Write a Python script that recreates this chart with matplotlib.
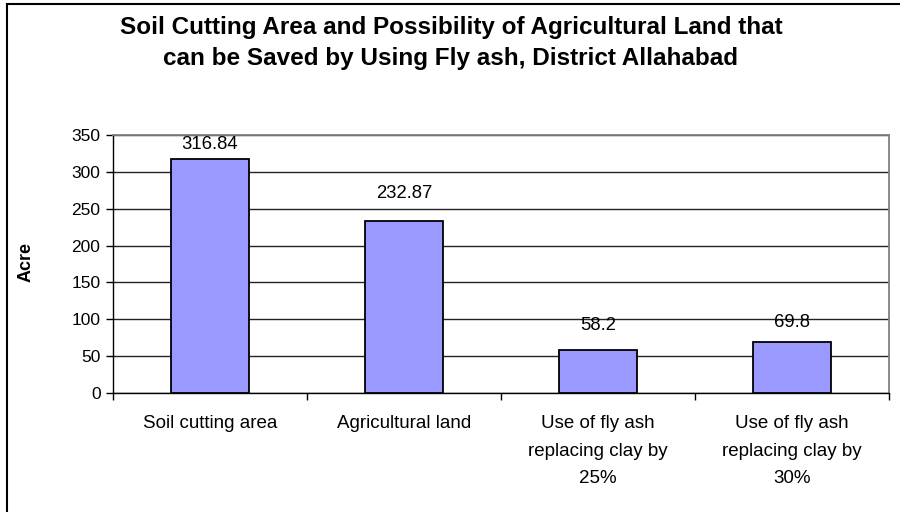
import matplotlib
matplotlib.use('Agg')
import matplotlib.pyplot as plt
from matplotlib.lines import Line2D
import numpy as np

plt.rcParams['font.family'] = ['Liberation Sans', 'DejaVu Sans']

categories = ['Soil cutting area', 'Agricultural land',
              'Use of fly ash\nreplacing clay by\n25%',
              'Use of fly ash\nreplacing clay by\n30%']
values = [316.84, 232.87, 58.2, 69.8]
value_labels = ['316.84', '232.87', '58.2', '69.8']
yticks = [0, 50, 100, 150, 200, 250, 300, 350]

# labels were placed by hand in the original, so the gap above each bar differs
label_gap = [19.6, 37.1, 34.0, 25.2]

fig = plt.figure(figsize=(9, 5.12), dpi=100)
ax = fig.add_axes([113/900, 1-393/512, (889-113)/900, (393-135)/512])

x = np.arange(len(categories))
ax.bar(x, values, width=0.4, color='#9999FF', edgecolor='black', linewidth=1.3, zorder=3)
for xi, v, lab, g in zip(x, values, value_labels, label_gap):
    ax.text(xi, v + g, lab, ha='center', va='center', fontsize=13.3)

ax.set_xlim(-0.5, len(categories) - 0.5)
ax.set_ylim(0, 350)
ax.set_yticks(yticks)
ax.yaxis.grid(True, color='#222222', linewidth=1, zorder=0)
ax.tick_params(axis='y', labelsize=12.5, length=5, direction='out', width=1, pad=4)

# category ticks sit between bars, labels centred under bars
ax.set_xticks(np.arange(-0.5, len(categories), 1))
ax.set_xticklabels([])
ax.set_xticks(x, minor=True)
ax.set_xticklabels(categories, minor=True, fontsize=13.5, linespacing=1.8, va='top')
ax.tick_params(axis='x', which='major', length=5, width=1)
ax.tick_params(axis='x', which='minor', length=0, pad=16)

for s in ['top', 'right']:
    ax.spines[s].set_color('#808080')
    ax.spines[s].set_linewidth(1.3)
ax.spines['left'].set_linewidth(1)
ax.spines['bottom'].set_linewidth(1)

fig.text(26/900, 1-262/512, 'Acre', rotation=90, ha='center', va='center',
         fontsize=13, fontweight='bold')

fig.text(451/900, 1-43/512,
         'Soil Cutting Area and Possibility of Agricultural Land that\ncan be Saved by Using Fly ash, District Allahabad',
         ha='center', va='center', fontsize=17.5, fontweight='bold', linespacing=1.45)

# outer chart frame (left and top edges visible)
fig.add_artist(Line2D([7/900, 7/900], [0, 1-4/512], color='black', linewidth=1.5, transform=fig.transFigure))
fig.add_artist(Line2D([7/900, 1], [1-4/512, 1-4/512], color='black', linewidth=1.5, transform=fig.transFigure))

fig.savefig('out.png', dpi=100)
